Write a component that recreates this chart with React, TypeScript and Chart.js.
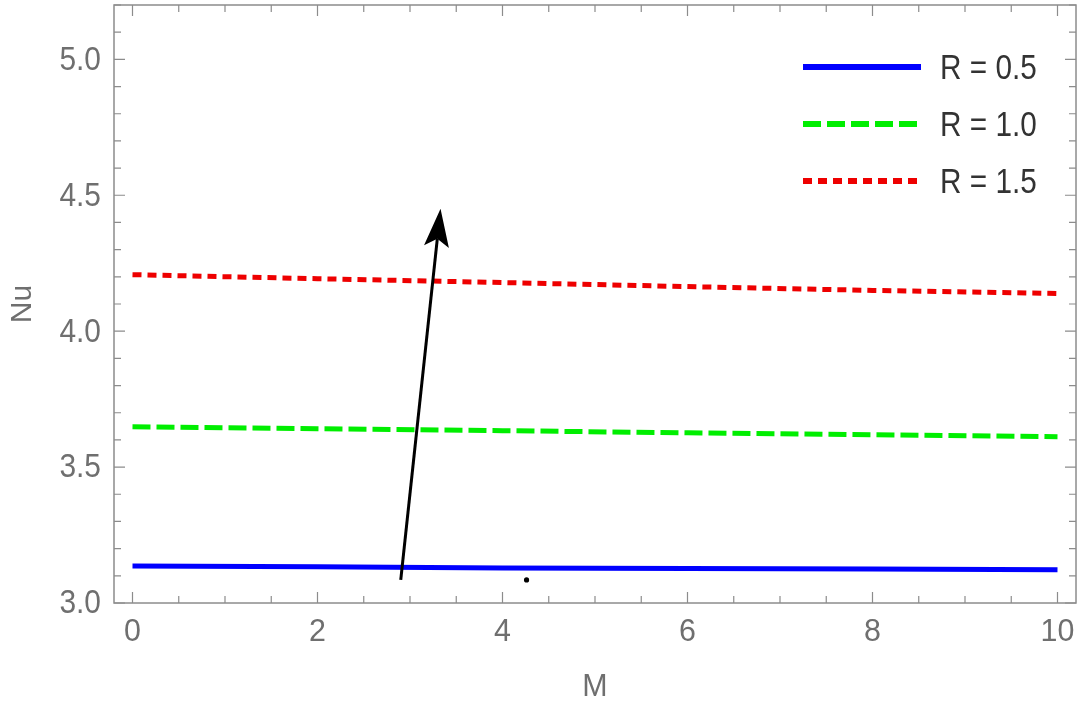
import React, { useEffect, useRef } from "react";
import { Chart, registerables } from "chart.js";

Chart.register(...registerables);

// Nusselt number against M for three values of R
const mValues = [0, 2, 4, 6, 8, 10];
const nuR05 = [3.136, 3.133, 3.129, 3.127, 3.125, 3.122];
const nuR10 = [3.648, 3.641, 3.634, 3.626, 3.619, 3.612];
const nuR15 = [4.208, 4.193, 4.179, 4.164, 4.15, 4.139];
const seriesLabels = ["R = 0.5", "R = 1.0", "R = 1.5"];

const xTicks = [0, 2, 4, 6, 8, 10];
const yTicks = [3.0, 3.5, 4.0, 4.5, 5.0];
const xMinorStep = 0.5;
const yMinorStep = 0.1;
const xTitle = "M";
const yTitle = "Nu";

// annotation arrow (increasing R) and stray marker, in data units
const arrowStart = { x: 2.9, y: 3.085 };
const arrowTip = { x: 3.33, y: 4.45 };
const markerDot = { x: 4.26, y: 3.085 };

const frameColor = "#8c8c8c";
const labelColor = "#6f6f6f";
const sans = "'Liberation Sans', Arial, sans-serif";

const toPoints = (ys: number[]) => mValues.map((x, i) => ({ x, y: ys[i] }));

function drawText(
  ctx: CanvasRenderingContext2D,
  text: string,
  x: number,
  y: number,
  size: number,
  align: CanvasTextAlign,
  color: string,
  sx = 1,
  rotate = 0
) {
  ctx.save();
  ctx.translate(x, y);
  if (rotate) ctx.rotate(rotate);
  ctx.scale(sx, 1);
  ctx.font = `${size}px ${sans}`;
  ctx.fillStyle = color;
  ctx.textAlign = align;
  ctx.textBaseline = "middle";
  ctx.fillText(text, 0, 0);
  ctx.restore();
}

const framePlugin = {
  id: "frameTicksArrowLegend",
  afterDatasetsDraw(chart: any) {
    const { ctx, chartArea: a, scales } = chart;
    const xs = scales.x;
    const ys = scales.y;
    ctx.save();

    // frame
    ctx.strokeStyle = frameColor;
    ctx.lineWidth = 1.5;
    ctx.strokeRect(a.left, a.top, a.right - a.left, a.bottom - a.top);

    // inward ticks on all four sides
    ctx.lineWidth = 1.2;
    const isMajor = (v: number, list: number[]) => list.some((t) => Math.abs(t - v) < 1e-6);
    for (let v = 0; v <= 10 + 1e-9; v += xMinorStep) {
      const px = xs.getPixelForValue(v);
      const len = isMajor(v, xTicks) ? 11 : 7;
      ctx.beginPath();
      ctx.moveTo(px, a.bottom);
      ctx.lineTo(px, a.bottom - len);
      ctx.moveTo(px, a.top);
      ctx.lineTo(px, a.top + len);
      ctx.stroke();
    }
    for (let v = 3.0; v <= 5.2 + 1e-9; v += yMinorStep) {
      const py = ys.getPixelForValue(v);
      const len = isMajor(v, yTicks) ? 11 : 7;
      ctx.beginPath();
      ctx.moveTo(a.left, py);
      ctx.lineTo(a.left + len, py);
      ctx.moveTo(a.right, py);
      ctx.lineTo(a.right - len, py);
      ctx.stroke();
    }

    // tick labels and axis titles
    xTicks.forEach((v) => {
      drawText(ctx, String(v), xs.getPixelForValue(v), a.bottom + 29, 32, "center", labelColor, 0.95);
    });
    yTicks.forEach((v) => {
      drawText(ctx, v.toFixed(1), a.left - 13, ys.getPixelForValue(v) + 1, 34, "right", labelColor, 0.88);
    });
    drawText(ctx, xTitle, (a.left + a.right) / 2, a.bottom + 84, 32, "center", labelColor, 0.95);
    drawText(ctx, yTitle, 23, (a.top + a.bottom) / 2, 30, "center", labelColor, 1, -Math.PI / 2);

    // arrow
    const x0 = xs.getPixelForValue(arrowStart.x);
    const y0 = ys.getPixelForValue(arrowStart.y);
    const x1 = xs.getPixelForValue(arrowTip.x);
    const y1 = ys.getPixelForValue(arrowTip.y);
    const ang = Math.atan2(y1 - y0, x1 - x0);
    const headLen = 38;
    const headHalf = 12.5;
    const notch = 30;
    const ux = Math.cos(ang);
    const uy = Math.sin(ang);
    ctx.strokeStyle = "#000";
    ctx.lineWidth = 3;
    ctx.beginPath();
    ctx.moveTo(x0, y0);
    ctx.lineTo(x1 - ux * notch, y1 - uy * notch);
    ctx.stroke();
    ctx.fillStyle = "#000";
    ctx.beginPath();
    ctx.moveTo(x1, y1);
    ctx.lineTo(x1 - ux * headLen - uy * headHalf, y1 - uy * headLen + ux * headHalf);
    ctx.lineTo(x1 - ux * notch, y1 - uy * notch);
    ctx.lineTo(x1 - ux * headLen + uy * headHalf, y1 - uy * headLen - ux * headHalf);
    ctx.closePath();
    ctx.fill();

    // stray marker dot
    ctx.beginPath();
    ctx.arc(xs.getPixelForValue(markerDot.x), ys.getPixelForValue(markerDot.y), 2.6, 0, Math.PI * 2);
    ctx.fill();

    // legend inside the plot, top right
    const lx0 = a.right - 273;
    const lx1 = a.right - 155;
    chart.data.datasets.forEach((ds: any, i: number) => {
      const ly = a.top + 62 + i * 57;
      ctx.strokeStyle = ds.borderColor;
      ctx.lineWidth = 6;
      ctx.setLineDash(ds.borderDash || []);
      ctx.lineCap = "butt";
      ctx.beginPath();
      ctx.moveTo(lx0, ly);
      ctx.lineTo(lx1, ly);
      ctx.stroke();
      ctx.setLineDash([]);
      drawText(ctx, ds.label, a.right - 136, ly + 2, 35, "left", "#333", 0.85);
    });

    ctx.restore();
  },
};

export default function App() {
  const canvasRef = useRef<HTMLCanvasElement | null>(null);

  useEffect(() => {
    document.body.style.margin = "0";
    const canvas = canvasRef.current;
    if (!canvas) return;
    const chart = new Chart(canvas, {
      type: "line",
      data: {
        datasets: [
          {
            label: seriesLabels[0],
            data: toPoints(nuR05),
            borderColor: "#0000ff",
            borderWidth: 5,
            pointRadius: 0,
            tension: 0,
          },
          {
            label: seriesLabels[1],
            data: toPoints(nuR10),
            borderColor: "#00ee00",
            borderWidth: 5,
            borderDash: [18, 6],
            pointRadius: 0,
            tension: 0,
          },
          {
            label: seriesLabels[2],
            data: toPoints(nuR15),
            borderColor: "#ee0000",
            borderWidth: 5,
            borderDash: [9, 6],
            pointRadius: 0,
            tension: 0,
          },
        ],
      },
      options: {
        animation: false,
        responsive: true,
        maintainAspectRatio: false,
        layout: { padding: { top: 5, right: 3, left: 0, bottom: 0 } },
        plugins: { legend: { display: false }, tooltip: { enabled: false } },
        scales: {
          x: {
            type: "linear",
            min: -0.2,
            max: 10.2,
            grid: { display: false },
            border: { display: false },
            ticks: { display: false },
            afterFit: (s: any) => {
              s.height = 101;
            },
          },
          y: {
            type: "linear",
            min: 3.0,
            max: 5.2,
            grid: { display: false },
            border: { display: false },
            ticks: { display: false },
            afterFit: (s: any) => {
              s.width = 114;
            },
          },
        },
      },
      plugins: [framePlugin],
    });
    return () => chart.destroy();
  }, []);

  return (
    <div style={{ position: "fixed", left: 0, top: 0, width: 1079, height: 704, background: "#fff" }}>
      <canvas ref={canvasRef} />
    </div>
  );
}
